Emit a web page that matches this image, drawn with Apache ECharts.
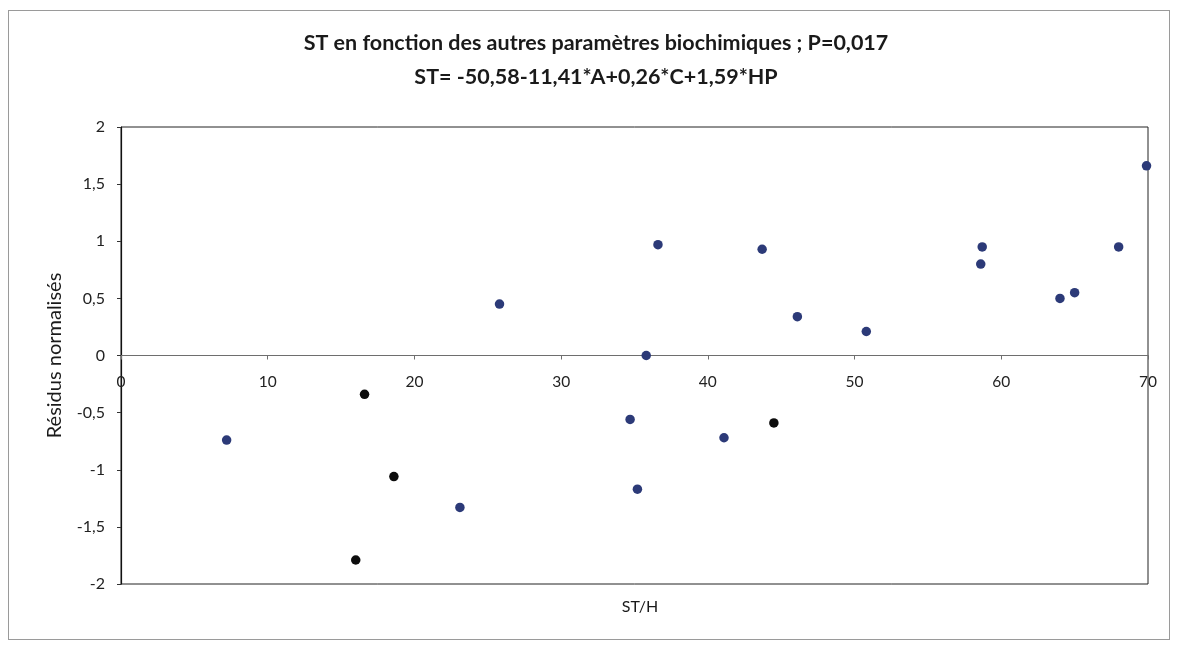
<!DOCTYPE html>
<html>
<head>
<meta charset="utf-8">
<script src="https://cdn.jsdelivr.net/npm/echarts@6/dist/echarts.min.js"></script>
<style>
  html, body { margin: 0; padding: 0; background: #fff; }
  #frame { position: absolute; left: 8px; top: 10px; width: 1162px; height: 630px; border: 1px solid #9a9a9a; box-sizing: border-box; }
  #chart { position: absolute; left: 0; top: 0; width: 1180px; height: 649px; }
</style>
</head>
<body>
<div id="frame"></div>
<div id="chart"></div>
<script>
// Normalised residuals against ST/H
const titleText = 'ST en fonction des autres paramètres biochimiques ; P=0,017';
const subtitleText = 'ST= -50,58-11,41*A+0,26*C+1,59*HP';
const xName = 'ST/H';
const yName = 'Résidus normalisés';

// main group (blue markers): [ST/H, residual]
const blueX = [7.2, 25.8, 23.1, 34.7, 35.8, 36.6, 35.2, 41.1, 43.7, 46.1, 50.8, 58.7, 58.6, 64.0, 65.0, 68.0, 69.9];
const blueY = [-0.74, 0.45, -1.33, -0.56, 0.0, 0.97, -1.17, -0.72, 0.93, 0.34, 0.21, 0.95, 0.80, 0.50, 0.55, 0.95, 1.66];

// second group (black markers)
const blackX = [16.6, 18.6, 16.0, 44.5];
const blackY = [-0.34, -1.06, -1.79, -0.59];

const xTicks = { min: 0, max: 70, step: 10 };
const yTicks = { min: -2, max: 2, step: 0.5 };

const pairs = (xs, ys) => xs.map((x, i) => [x, ys[i]]);
const font = "Lato, 'Open Sans', sans-serif";
const comma = v => String(v).replace('.', ',');

// plot box in pixels
const plot = { left: 121, right: 32, top: 127, bottom: 65, height: 649 - 127 - 65 };
// the horizontal axis sits on the zero line, halfway up the symmetric [-2, 2] range
const zeroLift = -plot.height * (0 - yTicks.min) / (yTicks.max - yTicks.min);

const chart = echarts.init(document.getElementById('chart'));
chart.setOption({
  animation: false,
  backgroundColor: 'transparent',
  title: [
    {
      text: titleText + '\n' + subtitleText,
      left: 596,
      top: 26,
      padding: 0,
      textAlign: 'center',
      textStyle: { fontFamily: font, fontSize: 21.5, fontWeight: 'bold', color: '#1a1a1a', lineHeight: 34 }
    },
    {
      // horizontal axis title, under the plot frame
      text: xName,
      left: 640,
      top: 599,
      padding: 0,
      textAlign: 'center',
      textStyle: { fontFamily: font, fontSize: 16, fontWeight: 'normal', color: '#1a1a1a' }
    }
  ],
  grid: { left: plot.left, right: plot.right, top: plot.top, bottom: plot.bottom, show: true, borderColor: '#222', borderWidth: 1, outerBoundsMode: 'none', containLabel: false },
  xAxis: {
    type: 'value',
    position: 'bottom',
    offset: zeroLift,
    min: xTicks.min, max: xTicks.max, interval: xTicks.step,
    axisLine: { onZero: false, lineStyle: { color: '#6e6e6e', width: 1.2 } },
    axisTick: { show: true, length: 4, inside: false, lineStyle: { color: '#6e6e6e' } },
    axisLabel: { margin: 18, fontFamily: font, fontSize: 15.5, color: '#222', showMinLabel: true, showMaxLabel: true },
    splitLine: { show: false }
  },
  yAxis: {
    type: 'value',
    min: yTicks.min, max: yTicks.max, interval: yTicks.step,
    name: yName, nameLocation: 'middle', nameGap: 56, nameRotate: 90,
    nameTextStyle: { fontFamily: font, fontSize: 20, color: '#1a1a1a' },
    axisLine: { show: true, onZero: false, lineStyle: { color: '#111', width: 1.2 } },
    axisTick: { show: true, length: 4, inside: false, lineStyle: { color: '#333' } },
    axisLabel: { margin: 16, fontFamily: font, fontSize: 16, color: '#222', formatter: comma },
    splitLine: { show: false }
  },
  series: [
    {
      type: 'scatter',
      data: pairs(blueX, blueY),
      symbol: 'circle', symbolSize: 9.5,
      itemStyle: { color: '#2c3a78', opacity: 1 }
    },
    {
      type: 'scatter',
      data: pairs(blackX, blackY),
      symbol: 'circle', symbolSize: 9.5,
      itemStyle: { color: '#0d0d0d', opacity: 1 }
    }
  ]
});
</script>
</body>
</html>
